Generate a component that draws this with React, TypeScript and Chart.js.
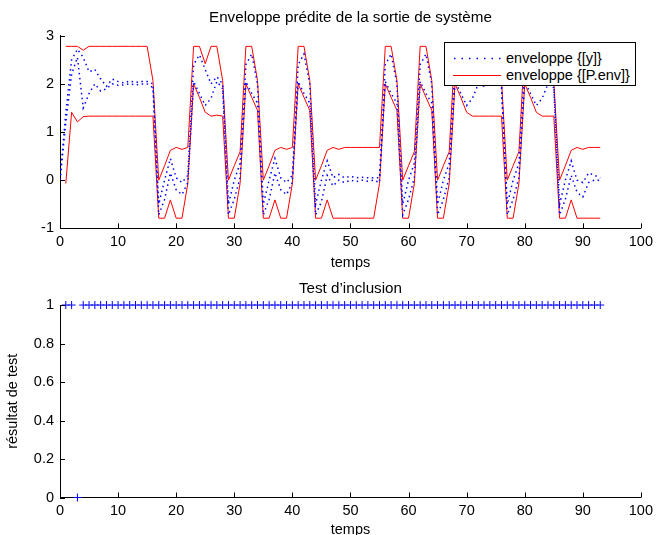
import React, { useEffect, useRef } from 'react';
import { Chart, registerables } from 'chart.js';

Chart.register(...registerables);

const FONT = "'Liberation Sans', Arial, Helvetica, sans-serif";

// time of first sample of each series (step = 1)
const BLUE_T0 = 0;
const RED_T0 = 1;
const INCL_T0 = 1;

// enveloppe [y] (blue dotted), t = 0..93
const blueUpper = [
  0, 1.4, 2.5, 2.72, 2.55, 2.25, 2.3, 2.1, 1.95, 2.1,
  2.05, 2.02, 2.06, 2.03, 2.05, 2.05, 2.0, -0.5, 0.0, 0.45,
  0.05, -0.05, 0.1, 2.4, 2.6, 2.3, 2.0, 2.15, 2.0, -0.5,
  0.0, 0.35, 2.4, 2.62, 2.0, -0.5, 0.0, 0.45, 0.05, -0.05,
  0.1, 2.4, 2.62, 2.0, -0.5, 0.0, 0.4, 0.05, 0.12, 0.05,
  0.08, 0.05, 0.06, 0.05, 0.05, 0.05, 2.4, 2.62, 2.0, -0.5,
  0.0, 0.35, 2.4, 2.62, 2.0, -0.5, 0.0, 0.35, 2.4, 2.6,
  2.3, 2.0, 2.15, 2.05, 2.05, 2.05, 2.0, -0.5, 0.0, 0.35,
  2.4, 2.6, 2.3, 2.0, 2.15, 2.0, -0.5, 0.0, 0.4, 0.0,
  -0.05, 0.15, 0.1, 0.05,
];
const blueLower = [
  0, 1.2, 2.2, 2.55, 1.5, 1.8, 2.0, 1.85, 1.9, 2.0,
  1.97, 1.98, 2.0, 1.98, 2.0, 2.0, 1.92, -0.72, -0.4, 0.15,
  -0.2, -0.3, -0.05, 2.05, 1.8, 1.55, 1.7, 2.05, 1.9, -0.72,
  -0.4, 0.05, 2.05, 1.8, 1.6, -0.72, -0.4, 0.15, -0.2, -0.3,
  -0.05, 2.05, 1.8, 1.6, -0.72, -0.45, 0.1, -0.12, 0.0, -0.05,
  0.0, -0.03, 0.0, -0.02, 0.0, -0.05, 2.05, 1.8, 1.6, -0.72,
  -0.4, 0.05, 2.05, 1.8, 1.6, -0.72, -0.4, 0.05, 2.05, 1.8,
  1.55, 1.7, 2.0, 1.95, 1.98, 2.0, 1.92, -0.72, -0.4, 0.05,
  2.05, 1.8, 1.55, 1.7, 2.0, 1.92, -0.72, -0.4, 0.1, -0.25,
  -0.35, -0.05, 0.0, 0.0,
];

// enveloppe [P.env] (red), t = 1..93
const redUpper = [
  2.78, 2.78, 2.78, 2.70, 2.78, 2.78, 2.78, 2.78, 2.78, 2.78,
  2.78, 2.78, 2.78, 2.78, 2.78, 2.07, 0.00, 0.30, 0.62, 0.68,
  0.64, 0.68, 2.78, 2.78, 2.42, 2.78, 2.78, 2.07, 0.00, 0.30,
  0.59, 2.78, 2.78, 2.07, 0.00, 0.30, 0.62, 0.68, 0.64, 0.68,
  2.78, 2.78, 2.07, 0.00, 0.30, 0.62, 0.68, 0.64, 0.68, 0.68,
  0.68, 0.68, 0.68, 0.68, 0.68, 2.78, 2.78, 2.07, 0.00, 0.30,
  0.59, 2.78, 2.78, 2.07, 0.00, 0.30, 0.59, 2.78, 2.78, 2.42,
  2.78, 2.78, 2.78, 2.78, 2.78, 2.07, 0.00, 0.30, 0.59, 2.78,
  2.78, 2.42, 2.78, 2.78, 2.07, 0.00, 0.30, 0.62, 0.68, 0.64,
  0.68, 0.68, 0.68,
];
const redLower = [
  -0.07, 1.41, 1.21, 1.32, 1.33, 1.33, 1.33, 1.33, 1.33, 1.33,
  1.33, 1.33, 1.33, 1.33, 1.33, 1.33, -0.79, -0.79, -0.41, -0.79,
  -0.79, -0.07, 2.00, 1.72, 1.41, 1.33, 1.35, 1.33, -0.79, -0.79,
  -0.07, 2.00, 1.72, 1.45, -0.79, -0.79, -0.41, -0.79, -0.79, -0.07,
  2.00, 1.72, 1.45, -0.79, -0.79, -0.41, -0.79, -0.79, -0.79, -0.79,
  -0.79, -0.79, -0.79, -0.79, -0.07, 2.00, 1.72, 1.45, -0.79, -0.79,
  -0.07, 2.00, 1.72, 1.45, -0.79, -0.79, -0.07, 2.00, 1.72, 1.41,
  1.33, 1.33, 1.33, 1.33, 1.33, 1.33, -0.79, -0.79, -0.07, 2.00,
  1.72, 1.41, 1.33, 1.33, 1.33, -0.79, -0.79, -0.41, -0.79, -0.79,
  -0.79, -0.79, -0.79,
];

// test d'inclusion, t = 1..93
const inclusion = [
  1, 1, 0, 1, 1, 1, 1, 1, 1, 1,
  1, 1, 1, 1, 1, 1, 1, 1, 1, 1,
  1, 1, 1, 1, 1, 1, 1, 1, 1, 1,
  1, 1, 1, 1, 1, 1, 1, 1, 1, 1,
  1, 1, 1, 1, 1, 1, 1, 1, 1, 1,
  1, 1, 1, 1, 1, 1, 1, 1, 1, 1,
  1, 1, 1, 1, 1, 1, 1, 1, 1, 1,
  1, 1, 1, 1, 1, 1, 1, 1, 1, 1,
  1, 1, 1, 1, 1, 1, 1, 1, 1, 1,
  1, 1, 1,
];

const TOP_TITLE = 'Enveloppe prédite de la sortie de système';
const BOTTOM_TITLE = 'Test d’inclusion';
const X_LABEL = 'temps';
const Y2_LABEL = 'résultat de test';
const LEGEND_Y = 'enveloppe {[y]}';
const LEGEND_P = 'enveloppe {[P.env]}';

const toPts = (arr: number[], t0: number) => arr.map((v, i) => ({ x: t0 + i, y: v }));

const inwardTicks = {
  id: 'inwardTicks',
  afterDraw(chart: any) {
    const { ctx, chartArea } = chart;
    const xs = chart.scales.x;
    const ys = chart.scales.y;
    ctx.save();
    ctx.strokeStyle = '#000';
    ctx.lineWidth = 1;
    ctx.beginPath();
    xs.ticks.forEach((_t: any, i: number) => {
      const px = Math.round(xs.getPixelForTick(i)) + 0.5;
      ctx.moveTo(px, chartArea.bottom);
      ctx.lineTo(px, chartArea.bottom - 5);
    });
    ys.ticks.forEach((_t: any, i: number) => {
      const py = Math.round(ys.getPixelForTick(i)) + 0.5;
      ctx.moveTo(chartArea.left, py);
      ctx.lineTo(chartArea.left + 5, py);
    });
    ctx.stroke();
    ctx.restore();
  },
};

const tickFont = { family: FONT, size: 14.5 };
const fmt = (v: any) => String(Math.round(Number(v) * 10) / 10);
const noGrid = { display: false, drawTicks: false, tickLength: 0 };

export default function App() {
  const topRef = useRef<HTMLCanvasElement>(null);
  const botRef = useRef<HTMLCanvasElement>(null);

  useEffect(() => {
    Chart.defaults.font.family = FONT;
    Chart.defaults.color = '#000';

    const blueStyle = {
      borderColor: '#0000ff',
      borderWidth: 1.5,
      borderDash: [1.5, 3.5],
      pointRadius: 0,
      fill: false,
      tension: 0,
    };
    const redStyle = {
      borderColor: '#ff0000',
      borderWidth: 1,
      pointRadius: 0,
      fill: false,
      tension: 0,
    };

    const top = new Chart(topRef.current as HTMLCanvasElement, {
      type: 'line',
      data: {
        datasets: [
          { label: LEGEND_Y, data: toPts(blueUpper, BLUE_T0), ...blueStyle },
          { label: LEGEND_Y, data: toPts(blueLower, BLUE_T0), ...blueStyle },
          { label: LEGEND_P, data: toPts(redUpper, RED_T0), ...redStyle },
          { label: LEGEND_P, data: toPts(redLower, RED_T0), ...redStyle },
        ] as any,
      },
      options: {
        animation: false,
        responsive: false,
        devicePixelRatio: 1,
        events: [],
        layout: { padding: { left: 0, right: 13, top: 0, bottom: 0 } },
        plugins: {
          legend: { display: false },
          tooltip: { enabled: false },
          title: {
            display: true,
            text: TOP_TITLE,
            fullSize: false,
            color: '#000',
            font: { family: FONT, size: 15.2, weight: 'normal' },
            padding: { top: 8.8, bottom: 8.7 },
          },
        },
        scales: {
          x: {
            type: 'linear',
            min: 0,
            max: 100,
            ticks: { stepSize: 10, padding: 5, color: '#000', font: tickFont, maxRotation: 0, autoSkip: false },
            grid: noGrid,
            border: { display: true, color: '#000', width: 1 },
            title: { display: true, text: X_LABEL, color: '#000', font: tickFont, padding: { top: 0, bottom: 0 } },
            afterFit: (s: any) => { s.height = 43.7; },
          },
          y: {
            type: 'linear',
            min: -1,
            max: 3,
            ticks: { stepSize: 1, padding: 6, color: '#000', font: tickFont, callback: fmt },
            grid: noGrid,
            border: { display: true, color: '#000', width: 1 },
            afterFit: (s: any) => { s.width = 60; },
          },
        },
      } as any,
      plugins: [inwardTicks],
    });

    const bot = new Chart(botRef.current as HTMLCanvasElement, {
      type: 'line',
      data: {
        datasets: [
          {
            label: 'inclusion',
            data: toPts(inclusion, INCL_T0),
            showLine: false,
            pointStyle: 'cross',
            pointRadius: 4,
            borderColor: '#0000ff',
            backgroundColor: '#0000ff',
            borderWidth: 1,
            clip: false,
          },
        ] as any,
      },
      options: {
        animation: false,
        responsive: false,
        devicePixelRatio: 1,
        events: [],
        layout: { padding: { left: 0, right: 13, top: 0, bottom: 0 } },
        plugins: {
          legend: { display: false },
          tooltip: { enabled: false },
          title: {
            display: true,
            text: BOTTOM_TITLE,
            fullSize: false,
            color: '#000',
            font: { family: FONT, size: 15.2, weight: 'normal' },
            padding: { top: 7.9, bottom: 6.9 },
          },
        },
        scales: {
          x: {
            type: 'linear',
            min: 0,
            max: 100,
            ticks: { stepSize: 10, padding: 5, color: '#000', font: tickFont, maxRotation: 0, autoSkip: false },
            grid: noGrid,
            border: { display: true, color: '#000', width: 1 },
            title: { display: true, text: X_LABEL, color: '#000', font: tickFont, padding: { top: 0, bottom: 1 } },
            afterFit: (s: any) => { s.height = 42.5; },
          },
          y: {
            type: 'linear',
            min: 0,
            max: 1,
            ticks: { stepSize: 0.2, padding: 6, color: '#000', font: tickFont, callback: fmt },
            grid: noGrid,
            border: { display: true, color: '#000', width: 1 },
            title: { display: true, text: Y2_LABEL, color: '#000', font: tickFont, padding: { top: 4, bottom: 0 } },
            afterFit: (s: any) => { s.width = 60; },
          },
        },
      } as any,
      plugins: [inwardTicks],
    });

    return () => {
      top.destroy();
      bot.destroy();
    };
  }, []);

  const legendText: React.CSSProperties = {
    position: 'absolute',
    left: 61,
    fontFamily: FONT,
    fontSize: 14.5,
    lineHeight: '17px',
    color: '#000',
    whiteSpace: 'nowrap',
  };

  return (
    <div
      style={{
        position: 'fixed',
        left: 0,
        top: 0,
        width: 658,
        height: 535,
        overflow: 'hidden',
        background: '#fff',
      }}
    >
      <canvas ref={topRef} width={658} height={272} style={{ position: 'absolute', left: 0, top: 0 }} />
      <canvas ref={botRef} width={658} height={268} style={{ position: 'absolute', left: 0, top: 272 }} />
      <div
        style={{
          position: 'absolute',
          left: 444,
          top: 42,
          width: 192,
          height: 44,
          boxSizing: 'border-box',
          border: '1px solid #000',
          background: '#fff',
        }}
      >
        <svg width={60} height={42} style={{ position: 'absolute', left: 0, top: 0 }}>
          <line x1={9} y1={15.5} x2={56} y2={15.5} stroke="#0000ff" strokeWidth={1.5} strokeDasharray="1.5 6" />
        </svg>
        <div style={{ position: 'absolute', left: 8, top: 32, width: 48, height: 0, borderTop: '1px solid #ff0000' }} />
        <div style={{ ...legendText, top: 7 }}>{LEGEND_Y}</div>
        <div style={{ ...legendText, top: 24 }}>{LEGEND_P}</div>
      </div>
    </div>
  );
}
